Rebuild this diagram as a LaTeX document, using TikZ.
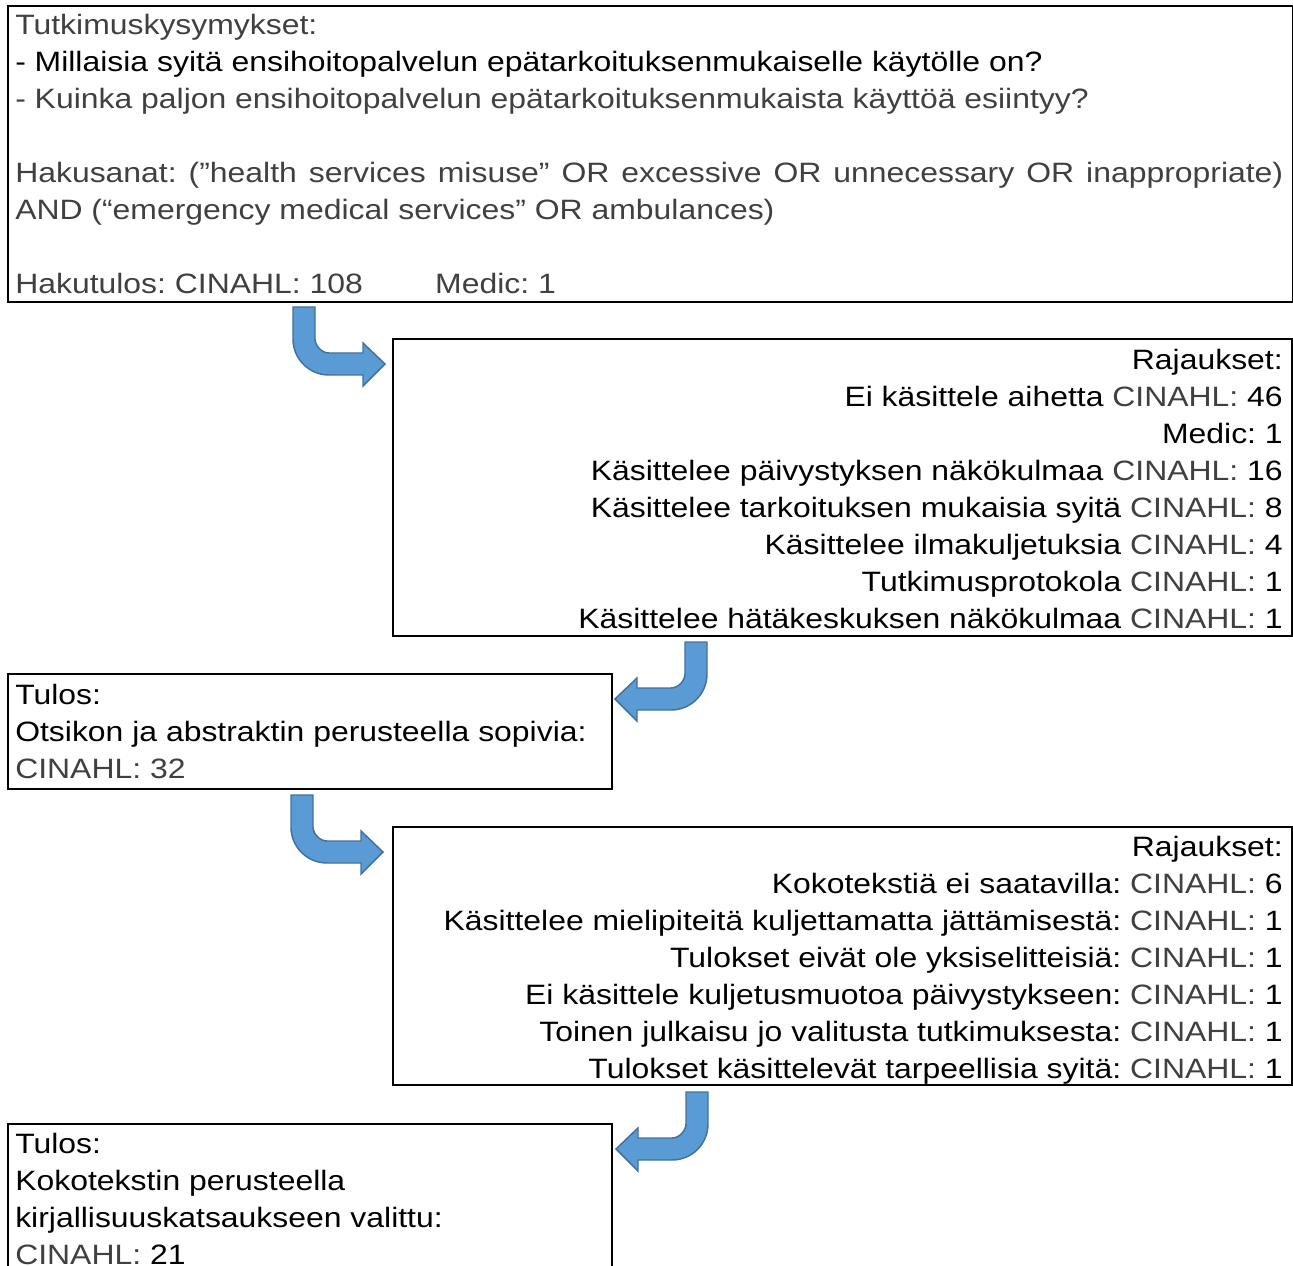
\documentclass[tikz,border=0pt]{standalone}
\usepackage{fontspec}
\setmainfont{Liberation Sans}[FakeStretch=1.14]
\definecolor{gr}{HTML}{404040}
\definecolor{arrfill}{HTML}{5B9BD5}
\definecolor{arrdraw}{HTML}{41719C}
\newcommand\gC{\textcolor{gr}{CINAHL:}}
\frenchspacing
\begin{document}
\begin{tikzpicture}[x=0.75pt,y=-0.75pt,
  box/.style={draw=black, line width=1.5pt, anchor=north west, inner sep=0pt},
  txt/.style={inner sep=0pt, font=\fontsize{21}{27.75}\selectfont},
  barrow/.style={fill=arrfill, draw=arrdraw, line width=1.1pt, line join=miter}]
\useasboundingbox (0,0) rectangle (1293,1266);

% boxes
\node[box, minimum width=963.75pt, minimum height=222pt] (b1) at (7,5) {};
\node[box, minimum width=674.25pt, minimum height=222.75pt] (b2) at (392,338) {};
\node[box, minimum width=453pt, minimum height=86.25pt] (b3) at (7,673) {};
\node[box, minimum width=674.25pt, minimum height=193.5pt] (b4) at (392,826) {};
\node[box, minimum width=453pt, minimum height=114pt] (b5) at (7,1123) {};

% texts
\node[txt, anchor=north west, align=left, text=gr] (t1) at (15,8.1) {\strut Tutkimuskysymykset:\\
\textcolor{black}{- Millaisia syitä ensihoitopalvelun epätarkoituksenmukaiselle käytölle on?}\\
- Kuinka paljon ensihoitopalvelun epätarkoituksenmukaista käyttöä esiintyy?\\
\mbox{}\\
\makebox[951pt][s]{Hakusanat: (”health services misuse” OR excessive OR unnecessary OR inappropriate)}\\
AND (“emergency medical services” OR ambulances)\\
\mbox{}\\
\makebox[315pt][l]{Hakutulos: CINAHL: 108}Medic: 1};

\node[txt, anchor=north east, align=right] (t2) at (1283,343.1) {\strut Rajaukset:\\
Ei käsittele aihetta \gC{} 46\\
Medic: 1\\
Käsittelee päivystyksen näkökulmaa \gC{} 16\\
Käsittelee tarkoituksen mukaisia syitä \gC{} 8\\
Käsittelee ilmakuljetuksia \gC{} 4\\
Tutkimusprotokola \gC{} 1\\
Käsittelee hätäkeskuksen näkökulmaa \gC{} 1};

\node[txt, anchor=north west, align=left] (t3) at (15,678) {\strut Tulos:\\
Otsikon ja abstraktin perusteella sopivia:\\
\textcolor{gr}{CINAHL: 32}};

\node[txt, anchor=north east, align=right] (t4) at (1283,830) {\strut Rajaukset:\\
Kokotekstiä ei saatavilla: \gC{} 6\\
Käsittelee mielipiteitä kuljettamatta jättämisestä: \gC{} 1\\
Tulokset eivät ole yksiselitteisiä: \gC{} 1\\
Ei käsittele kuljetusmuotoa päivystykseen: \gC{} 1\\
Toinen julkaisu jo valitusta tutkimuksesta: \gC{} 1\\
Tulokset käsittelevät tarpeellisia syitä: \gC{} 1};

\node[txt, anchor=north west, align=left] (t5) at (15,1127) {\strut Tulos:\\
Kokotekstin perusteella\\
kirjallisuuskatsaukseen valittu:\\
\gC{} 21};

% bent arrows
\foreach \px/\py/\sx in {293/307/1, 707/642/-1, 291/795/1, 708/1092/-1}{
  \begin{scope}[shift={(\px,\py)}, xscale=\sx]
    \draw[barrow] (0,0) -- (0,32) .. controls (0,51.9) and (16.1,68) .. (36,68)
      -- (70,68) -- (70,79) -- (92,57) -- (70,36) -- (70,46) -- (36,46)
      .. controls (28.3,46) and (22,38.3) .. (22,32) -- (22,0) -- cycle;
  \end{scope}
}
\end{tikzpicture}
\end{document}
